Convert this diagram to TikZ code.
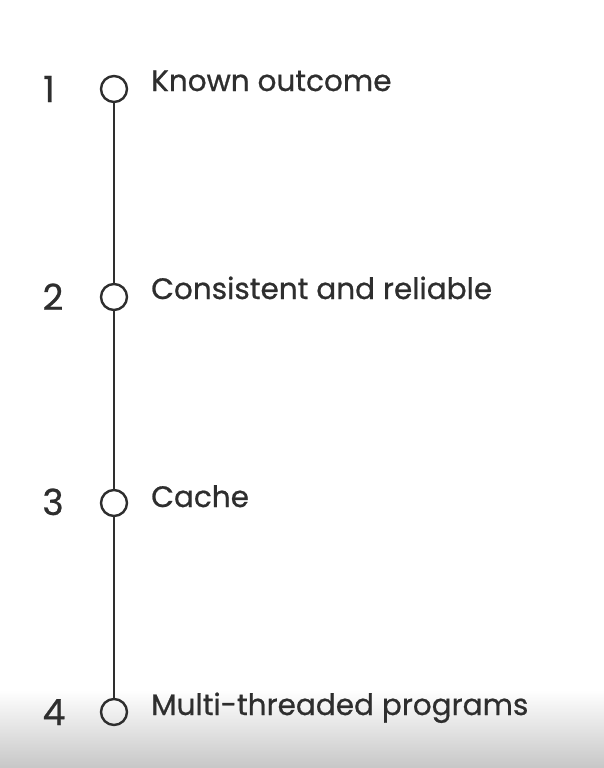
\documentclass[tikz,border=0pt]{standalone}
\usepackage{fontspec}
\setmainfont{Poppins}
\newfontfamily\medfont{Poppins}[FakeBold=0.7]
\begin{document}
\begin{tikzpicture}[x=1pt,y=1pt,
  dot/.style={circle,draw=black!82,line width=2.4pt,minimum size=26pt,inner sep=0pt,fill=none},
  num/.style={text=black!82,font=\medfont\fontsize{36}{36}\selectfont,anchor=base,inner sep=0pt},
  lab/.style={text=black!82,font=\medfont\fontsize{29.5}{30}\selectfont,anchor=base west,inner sep=0pt}]
\useasboundingbox (0,0) rectangle (604,-768);
\shade[top color=white,bottom color=white] (0,0) rectangle (604,-690);
\shade[top color=white,bottom color=black!22] (0,-690) rectangle (604,-768);
\node[dot] (c1) at (114,-89) {};
\node[dot] (c2) at (114,-297) {};
\node[dot] (c3) at (114,-503) {};
\node[dot] (c4) at (114,-712) {};
\draw[black!82,line width=2.2pt] (c1) -- (c2) (c2) -- (c3) (c3) -- (c4);
\node[num] (n1) at (49,-102) {1};
\node[num] (n2) at (53,-310) {2};
\node[num] (n3) at (53,-515) {3};
\node[num] (n4) at (54,-725) {4};
\node[lab] (t1) at (151,-91) {Known outcome};
\node[lab] (t2) at (151,-299) {Consistent and reliable};
\node[lab] (t3) at (151,-507) {Cache};
\node[lab] (t4) at (151,-715) {Multi-threaded programs};
\end{tikzpicture}
\end{document}
